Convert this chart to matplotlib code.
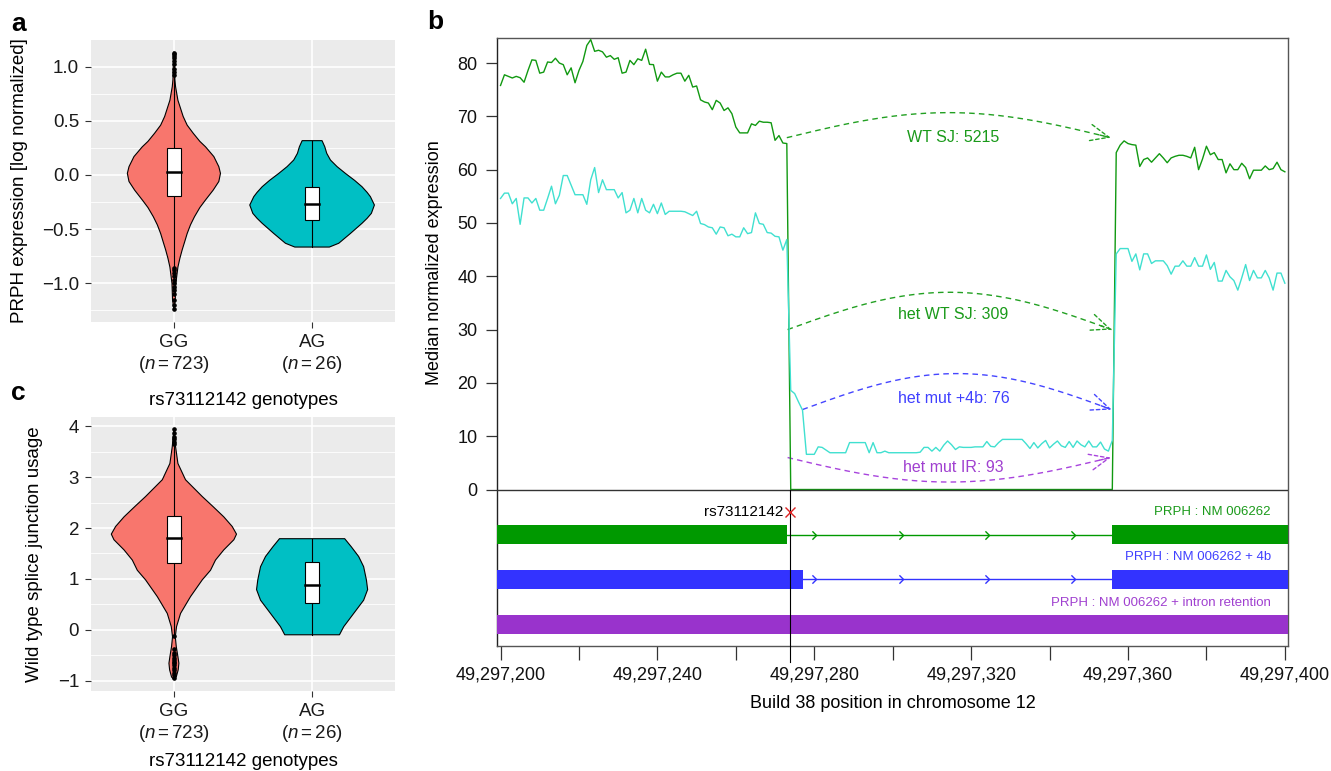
import numpy as np
import matplotlib
matplotlib.use('Agg')
import matplotlib.pyplot as plt
from matplotlib.path import Path
from matplotlib.patches import Rectangle

plt.rcParams['font.family'] = ['Liberation Sans', 'DejaVu Sans']
plt.rcParams['mathtext.fontset'] = 'custom'
plt.rcParams['mathtext.rm'] = 'Liberation Sans'
plt.rcParams['mathtext.it'] = 'Liberation Sans:italic'

# ---------------- data: violin panels ----------------
genotypes = ['GG', 'AG']
n_counts = [723, 26]
violin_colors = ['#F8766D', '#00BFC4']

# panel a profiles: value levels and half-widths (x units)
a_gg_y = [1.14, 1.0, 0.88, 0.815, 0.69, 0.54, 0.46, 0.385, 0.31, 0.26, 0.17, 0.077, 0.015,
          -0.06, -0.14, -0.23, -0.30, -0.385, -0.46, -0.54, -0.62, -0.69, -0.77, -0.85,
          -1.0, -1.15, -1.245]
a_gg_w = [0.0, 0.005, 0.007, 0.012, 0.029, 0.067, 0.096, 0.14, 0.188, 0.229, 0.289, 0.325,
          0.337, 0.325, 0.284, 0.229, 0.188, 0.149, 0.12, 0.096, 0.077, 0.06, 0.043, 0.029,
          0.014, 0.01, 0.0]
a_ag_y = [0.317, 0.26, 0.2, 0.138, 0.077, 0.015, -0.05, -0.108, -0.16, -0.2, -0.277, -0.354,
          -0.40, -0.446, -0.54, -0.63, -0.665]
a_ag_w = [0.072, 0.092, 0.106, 0.133, 0.181, 0.241, 0.308, 0.361, 0.398, 0.422, 0.451, 0.429,
          0.398, 0.361, 0.277, 0.193, 0.125]
# box stats: q1, median, q3, whisker low, whisker high
a_box = [(-0.194, 0.025, 0.246, -0.85, 0.9), (-0.415, -0.265, -0.108, -0.665, 0.317)]
a_out_gg = [0.92, 0.95, 0.98, 1.02, 1.05, 1.08, 1.10, 1.12, 1.13,
            -0.86, -0.88, -0.90, -0.93, -0.97, -1.0, -1.03, -1.06, -1.10, -1.15, -1.20, -1.24]

# panel c profiles
c_gg_y = [3.94, 3.6, 3.27, 2.95, 2.62, 2.42, 2.22, 2.03, 1.88, 1.77, 1.57, 1.37, 1.17, 0.98,
          0.65, 0.32, 0.06, -0.14, -0.33, -0.53, -0.66, -0.79, -0.93, -0.98]
c_gg_w = [0.0, 0.012, 0.029, 0.084, 0.205, 0.284, 0.361, 0.422, 0.453, 0.434, 0.361, 0.301,
          0.265, 0.205, 0.12, 0.048, 0.019, 0.01, 0.017, 0.029, 0.036, 0.031, 0.017, 0.0]
c_ag_y = [1.79, 1.63, 1.44, 1.24, 0.98, 0.79, 0.58, 0.32, 0.06, -0.1]
c_ag_w = [0.236, 0.284, 0.337, 0.373, 0.393, 0.402, 0.373, 0.301, 0.229, 0.198]
c_box = [(1.31, 1.81, 2.24, -0.09, 3.64), (0.52, 0.88, 1.34, -0.1, 1.79)]
c_out_gg = [3.66, 3.70, 3.75, 3.80, 3.87, 3.94,
            -0.12, -0.38, -0.45, -0.50, -0.55, -0.60, -0.63, -0.66, -0.70, -0.75, -0.80,
            -0.85, -0.90, -0.95]

a_yticks = [-1.0, -0.5, 0.0, 0.5, 1.0]
a_yticklabels = ['\u22121.0', '\u22120.5', '0.0', '0.5', '1.0']
a_minor = [-1.25, -0.75, -0.25, 0.25, 0.75]
c_yticks = [-1, 0, 1, 2, 3, 4]
c_yticklabels = ['\u22121', '0', '1', '2', '3', '4']
c_minor = [-0.5, 0.5, 1.5, 2.5, 3.5]

# ---------------- data: panel b ----------------
pos_start = 200  # offset from 49,297,000
wt_expr = [75.8, 77.8, 77.5, 77.2, 77.5, 77.25, 76.4, 78.6, 80.6, 80.5, 78.1, 78.3, 80.2, 80.1,
           80.9, 80.0, 79.7, 77.8, 79.1, 76.3, 78.6, 80.3, 83.3, 84.4, 82.2, 82.4, 82.1, 81.1,
           81.4, 80.7, 81.0, 78.1, 78.3, 80.5, 79.7, 80.8, 80.5,
           82.6, 79.75, 79.7, 76.6, 78.3, 77.4, 77.4, 77.8, 78.1, 78.1, 76.6, 77.7, 75.5, 75.7,
           73.1, 72.7, 72.5, 71.25, 73.0, 72.5, 71.1, 71.6, 70.5, 68.0, 66.9, 66.9, 66.9, 68.6,
           68.3, 69.1, 68.9, 68.9, 68.8, 65.5, 66.4, 65.0, 64.9] + [0.0] * 83 + \
          [63.2, 64.6, 65.4, 64.9, 64.7, 64.6, 60.6, 61.9, 62.2, 61.4, 62.2, 63.0, 62.2, 61.3,
           62.2, 62.5, 62.7, 62.7, 62.5, 62.2, 64.2, 60.0, 62.0, 64.4, 62.8, 63.2, 61.9, 61.9,
           59.4, 61.1, 60.0, 60.0, 61.2, 60.4, 58.3, 59.9, 59.9, 59.9, 60.7, 60.0, 60.2, 61.4,
           60.0, 59.6]
het_expr = [54.6, 55.6, 55.6, 53.6, 54.6, 49.75, 54.7, 54.7, 53.75, 54.6, 52.4, 52.4, 54.6, 56.9,
            53.6, 55.2, 58.9, 58.9, 57.1, 55.3, 55.3, 55.3, 53.5, 58.1, 60.4, 55.7, 58.1, 56.25,
            56.25, 56.25, 54.7, 55.7, 51.9, 52.4, 54.6, 51.9, 54.6,
            52.4, 51.9, 53.5, 51.75, 53.75, 51.6, 52.2, 52.2, 52.2, 52.2, 52.1, 51.75, 51.4, 52.2,
            49.9, 49.7, 49.25, 49.1, 47.9, 49.25, 49.1, 47.6, 47.9, 47.4, 47.4, 49.1, 48.0, 48.2,
            51.9, 49.9, 49.75, 48.2, 48.1, 47.5, 47.4, 44.9, 46.9,
            18.6, 18.0, 16.4, 14.9, 6.6, 6.6, 6.6, 8.0, 7.9, 7.4, 6.9, 6.9, 6.9, 6.9, 6.9, 8.8,
            8.8, 8.8, 8.8, 8.8, 6.9, 8.8, 6.9, 6.9, 7.2, 6.9, 6.9, 6.9, 6.9, 6.9, 6.9, 6.9, 6.9,
            7.0, 7.9, 7.9, 7.2, 7.9, 7.2, 8.3, 9.1, 8.4, 7.5, 8.0, 7.9, 7.9, 7.9, 8.0, 8.0, 8.0,
            9.0, 8.1, 8.0, 8.8, 9.4, 9.4, 9.4, 9.4, 9.4, 9.4, 8.6, 7.7, 8.8, 7.8, 8.6, 9.2, 7.8,
            8.5, 9.1, 8.2, 7.9, 9.0, 7.9, 9.1, 8.4, 8.0, 9.1, 8.0, 8.0, 8.9, 7.6, 7.2, 9.2,
            44.2, 45.2, 45.2, 45.2, 42.8, 44.2, 41.2, 44.2, 44.2, 42.4, 42.9, 42.9, 42.9, 42.0,
            40.4, 41.9, 41.9, 42.9, 41.9, 41.9, 43.5, 41.9, 41.9, 44.0, 41.3, 42.6, 39.1, 39.1,
            41.1, 39.9, 39.2, 37.4, 39.7, 42.2, 39.2, 41.1, 39.7, 39.7, 41.1, 39.7, 37.4, 40.6,
            40.6, 38.7]

arc_labels = ['WT SJ: 5215', 'het WT SJ: 309', 'het mut +4b: 76', 'het mut IR: 93']
arc_x0 = [273.0, 273.2, 277.0, 273.2]
arc_x1 = [355.6, 355.8, 355.8, 355.6]
arc_y = [66.0, 30.0, 15.0, 6.0]
arc_h = [4.7, 7.0, 6.75, -4.6]
arc_label_y = [66.0, 32.8, 17.1, 4.1]
arc_label_x = 315.5
arc_colors = ['#22A022', '#22A022', '#4545FF', '#A844DD']
arc_text_colors = ['#1A9A1A', '#1A9A1A', '#4040FF', '#A040D0']

snp_name = 'rs73112142'
snp_pos = 273.9
tx_names = ['PRPH : NM 006262', 'PRPH : NM 006262 + 4b', 'PRPH : NM 006262 + intron retention']
tx_colors = ['#009900', '#3333FF', '#9933CC']
tx_text_colors = ['#1A9A1A', '#4040FF', '#A040D0']
tx_exons = [[(198.0, 273.1), (356.0, 402.0)], [(198.0, 277.2), (356.0, 402.0)], [(198.0, 402.0)]]
tx_introns = [(273.1, 356.0), (277.2, 356.0), None]
tx_y = [-8.45, -16.85, -25.3]
tx_label_y = [-4.2, -12.75, -21.3]
chevron_x = [280, 302, 324, 346]

xticks_b = [200, 220, 240, 260, 280, 300, 320, 340, 360, 380, 400]
xticklabels_b = ['49,297,200', '', '49,297,240', '', '49,297,280', '', '49,297,320', '',
                 '49,297,360', '', '49,297,400']

# ---------------- figure ----------------
W, H = 1331, 771
fig = plt.figure(figsize=(W / 100, H / 100), dpi=100)


def fx(px):
    return px / W


def fy(py):
    return 1 - py / H


def violin_panel(ax, profiles, boxes, outliers, ylim, yticks, yticklabels, minor):
    ax.set_facecolor('#EBEBEB')
    ax.set_xlim(0.4, 2.6)
    ax.set_ylim(*ylim)
    for y in minor:
        ax.axhline(y, color='white', lw=0.6, zorder=0)
    for y in yticks:
        ax.axhline(y, color='white', lw=1.2, zorder=0)
    for xp in (1, 2):
        ax.axvline(xp, color='white', lw=1.2, zorder=0)
    for s in ax.spines.values():
        s.set_visible(False)
    for i, (ys, ws) in enumerate(profiles):
        xp = i + 1
        ys = np.asarray(ys)
        ws = np.asarray(ws)
        xs = np.concatenate([xp + ws, (xp - ws)[::-1]])
        yy = np.concatenate([ys, ys[::-1]])
        ax.fill(xs, yy, facecolor=violin_colors[i], edgecolor='black', lw=0.8, zorder=2)
        q1, med, q3, wlo, whi = boxes[i]
        ax.plot([xp, xp], [wlo, whi], color='black', lw=0.8, zorder=3)
        ax.add_patch(Rectangle((xp - 0.048, q1), 0.096, q3 - q1, facecolor='white',
                               edgecolor='black', lw=0.8, zorder=4))
        ax.plot([xp - 0.048, xp + 0.048], [med, med], color='black', lw=1.8, zorder=5)
    ax.plot([1] * len(outliers), outliers, 'o', ms=2.3, color='black', zorder=6)
    ax.set_yticks(yticks)
    ax.set_yticklabels(yticklabels)
    ax.set_xticks([1, 2])
    ax.set_xticklabels([f'{g}\n$(\\mathit{{n}}={n})$' for g, n in zip(genotypes, n_counts)])
    ax.tick_params(axis='both', length=4, width=0.8, color='#333333', labelsize=13.5,
                   labelcolor='#1A1A1A')
    ax.tick_params(axis='y', pad=4.5)
    ax.tick_params(axis='x', pad=5)


# panel a
axa = fig.add_axes([fx(91), fy(321.7), fx(395) - fx(91), fy(40) - fy(321.7)])
violin_panel(axa, [(a_gg_y, a_gg_w), (a_ag_y, a_ag_w)], a_box, a_out_gg, (-1.354, 1.246),
             a_yticks, a_yticklabels, a_minor)
axa.set_ylabel('PRPH expression [log normalized]', fontsize=13.5)
axa.yaxis.set_label_coords(-0.207, 0.5)

# panel c
axc = fig.add_axes([fx(91), fy(690.7), fx(395) - fx(91), fy(416.7) - fy(690.7)])
violin_panel(axc, [(c_gg_y, c_gg_w), (c_ag_y, c_ag_w)], c_box, c_out_gg, (-1.2, 4.19),
             c_yticks, c_yticklabels, c_minor)
axc.set_ylabel('Wild type splice junction usage', fontsize=13.5)
axc.yaxis.set_label_coords(-0.157, 0.5)

fig.text(fx(243), fy(400), 'rs73112142 genotypes', ha='center', va='center', fontsize=13.5)
fig.text(fx(243), fy(762), 'rs73112142 genotypes', ha='center', va='center', fontsize=13.5)

# panel b
axb = fig.add_axes([fx(497), fy(645.7), fx(1288) - fx(497), fy(38) - fy(645.7)])
axb.set_xlim(199.1, 400.8)
axb.set_ylim(-29.3, 84.7)
xpos = np.arange(pos_start, pos_start + len(wt_expr))
axb.plot(xpos, wt_expr, color='#119911', lw=1.0, zorder=3)
xpos2 = np.arange(pos_start, pos_start + len(het_expr))
axb.plot(xpos2, het_expr, color='#40E0D0', lw=1.0, zorder=3)
axb.axhline(0, color='#333333', lw=1.0, zorder=4)

t = np.linspace(0, 1, 150)
for lab, x0, x1, y0, h, ly, c, tc in zip(arc_labels, arc_x0, arc_x1, arc_y, arc_h,
                                          arc_label_y, arc_colors, arc_text_colors):
    xs = x0 + (x1 - x0) * t
    ys = y0 + h * np.sin(np.pi * t)
    axb.plot(xs, ys, color=c, lw=1.0, ls=(0, (4, 3)), zorder=2)
    axb.annotate('', xy=(xs[-1], ys[-1]), xytext=(xs[-6], ys[-6]),
                 arrowprops=dict(arrowstyle='->,head_length=0.7,head_width=0.3', color=c,
                                 lw=1.0, ls=(0, (2.5, 2)), shrinkA=0, shrinkB=0,
                                 mutation_scale=20))
    axb.text(arc_label_x, ly, lab, color=tc, fontsize=11.5, ha='center', va='center')

# gene track
axb.plot([snp_pos, snp_pos], [0, -32.3], color='black', lw=0.8, clip_on=False, zorder=5)
axb.plot([snp_pos], [tx_label_y[0]], marker='x', ms=7, mew=1.0, color='#DD2222', zorder=6)
axb.text(snp_pos - 1.8, tx_label_y[0], snp_name, ha='right', va='center', fontsize=11,
         color='black')
chev = Path([(-0.5, 1.0), (0.5, 0.0), (-0.5, -1.0)], [Path.MOVETO, Path.LINETO, Path.LINETO])
for name, col, tcol, exons, intr, yc, yl in zip(tx_names, tx_colors, tx_text_colors, tx_exons,
                                                 tx_introns, tx_y, tx_label_y):
    for (s, e) in exons:
        axb.barh(yc, e - s, left=s, height=3.45, color=col, zorder=3)
    if intr is not None:
        axb.plot([intr[0], intr[1]], [yc, yc], color=col, lw=1.0, zorder=3)
        axb.plot(chevron_x, [yc] * len(chevron_x), ls='none', marker=chev, ms=6, mfc='none',
                 mec=col, mew=1.0, zorder=3)
    axb.text(396.4, yl, name, ha='right', va='center', fontsize=9.5, color=tcol)

axb.set_yticks(list(range(0, 81, 10)))
axb.set_xticks(xticks_b)
axb.set_xticklabels(xticklabels_b)
axb.tick_params(axis='y', length=8, width=0.9, color='#333333', labelsize=13, pad=6,
                labelcolor='#111111')
axb.tick_params(axis='x', length=10, width=0.9, color='#333333', labelsize=13, pad=5,
                labelcolor='#111111')
for s in axb.spines.values():
    s.set_color('#555555')
    s.set_linewidth(1.0)
axb.spines['left'].set_color('#222222')
axb.set_ylabel('Median normalized expression', fontsize=13)
axb.yaxis.set_label_coords(-0.0687, 0.63)
axb.set_xlabel('Build 38 position in chromosome 12', fontsize=13, labelpad=8)

# panel letters
fig.text(fx(11), fy(31), 'a', fontsize=19, fontweight='bold', va='baseline')
fig.text(fx(11), fy(400), 'c', fontsize=19, fontweight='bold', va='baseline')
fig.text(fx(427), fy(29), 'b', fontsize=19, fontweight='bold', va='baseline')

fig.savefig('out.png', dpi=100)
